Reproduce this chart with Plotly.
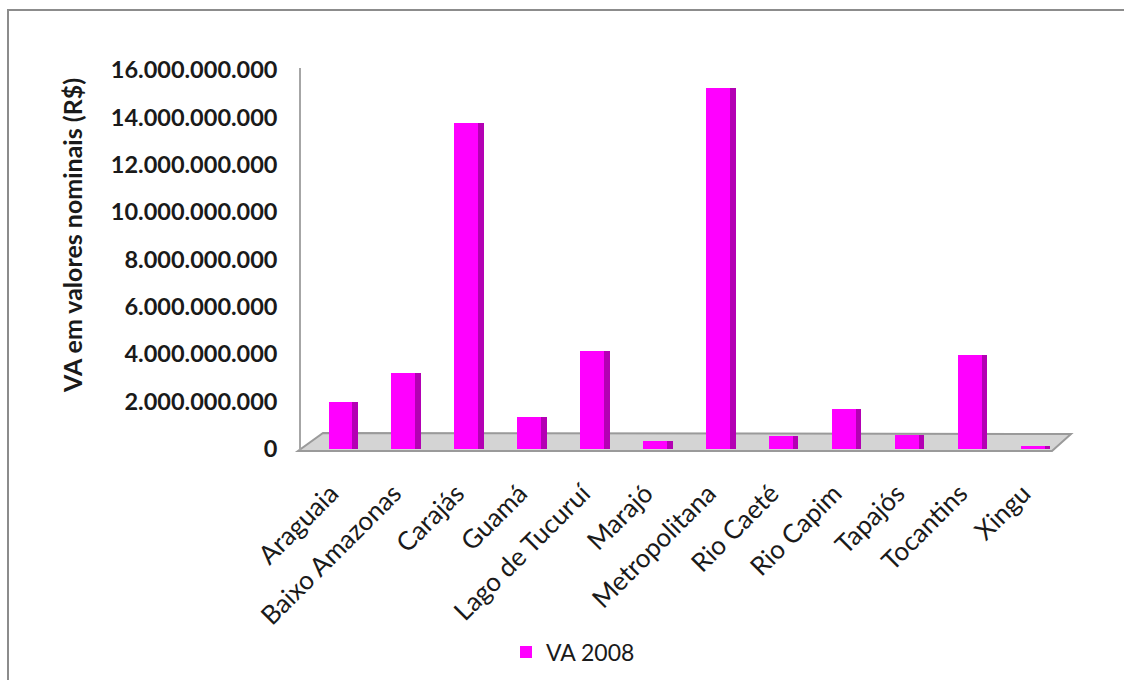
import plotly.graph_objects as go

# Valor adicionado (VA) 2008 por região de integração, em R$ nominais
regioes = ["Araguaia", "Baixo Amazonas", "Carajás", "Guamá", "Lago de Tucuruí",
           "Marajó", "Metropolitana", "Rio Caeté", "Rio Capim", "Tapajós",
           "Tocantins", "Xingu"]
va_2008 = [1.98e9, 3.2e9, 13.75e9, 1.35e9, 4.12e9,
           0.35e9, 15.22e9, 0.55e9, 1.68e9, 0.58e9,
           3.96e9, 0.12e9]

y_ticks = [0, 2e9, 4e9, 6e9, 8e9, 10e9, 12e9, 14e9, 16e9]
y_tick_text = ["0", "2.000.000.000", "4.000.000.000", "6.000.000.000",
               "8.000.000.000", "10.000.000.000", "12.000.000.000",
               "14.000.000.000", "16.000.000.000"]

W, H = 1124, 680
FONT = "Lato"


def px(x):
    return x / W


def py(y):
    return 1 - y / H


fig = go.Figure()

# front face of each column
fig.add_trace(go.Bar(
    x=regioes, y=va_2008, name="VA 2008",
    width=0.38, offset=-0.19,
    marker=dict(color="#ff00ff", line=dict(width=0)),
))
# darker side face for the 3D look
fig.add_trace(go.Bar(
    x=regioes, y=va_2008, name="lateral", showlegend=False,
    width=0.09, offset=0.19,
    marker=dict(color="#b400b4", line=dict(width=0)),
    hoverinfo="skip",
))

shapes = [
    # chart border
    dict(type="rect", xref="paper", yref="paper",
         x0=px(8), x1=px(1140), y0=py(690), y1=py(10),
         line=dict(color="#8c8c8c", width=2), fillcolor="rgba(0,0,0,0)",
         layer="below"),
    # floor of the 3D plot
    dict(type="path", xref="paper", yref="paper",
         path=(f"M {px(298)} {py(451)} L {px(1052)} {py(451)} "
               f"L {px(1071)} {py(434)} L {px(323)} {py(433)} Z"),
         fillcolor="#d4d4d4", line=dict(color="#9a9a9a", width=2),
         layer="below"),
    # value axis line
    dict(type="line", xref="paper", yref="paper",
         x0=px(300), x1=px(300), y0=py(450), y1=py(68),
         line=dict(color="#a6a6a6", width=2), layer="below"),
]

fig.update_layout(
    width=W, height=H,
    margin=dict(l=0, r=0, t=0, b=0),
    paper_bgcolor="white", plot_bgcolor="rgba(0,0,0,0)",
    barmode="overlay", bargap=0,
    shapes=shapes,
    font=dict(family=FONT, color="#1a1a1a"),
    xaxis=dict(
        domain=[px(308.5), px(1063.5)], range=[-0.5, 11.5],
        automargin=False, showgrid=False, zeroline=False, showline=False,
        tickangle=-45, tickfont=dict(family=FONT, size=26, color="#1a1a1a"),
        ticks="outside", ticklen=18, tickcolor="rgba(0,0,0,0)",
        ticklabelshift=-9,
    ),
    yaxis=dict(
        domain=[py(449), py(70)], range=[0, 16e9],
        automargin=False, showgrid=False, zeroline=False, showline=False,
        tickvals=y_ticks, ticktext=y_tick_text,
        tickfont=dict(family=FONT, size=23.5, color="#1a1a1a", weight="bold"),
        ticks="", ticklabelstandoff=30,
    ),
    annotations=[dict(
        text="<b>VA em valores nominais (R$)</b>", xref="paper", yref="paper",
        x=px(55), y=py(236), textangle=-90, showarrow=False,
        font=dict(family=FONT, size=25, color="#1a1a1a"),
    )],
    legend=dict(
        orientation="h", x=px(506), y=py(652), xanchor="left", yanchor="middle",
        font=dict(family=FONT, size=23, color="#1a1a1a"),
        bgcolor="rgba(0,0,0,0)",
    ),
    showlegend=True,
)

fig.write_html("out.html")
